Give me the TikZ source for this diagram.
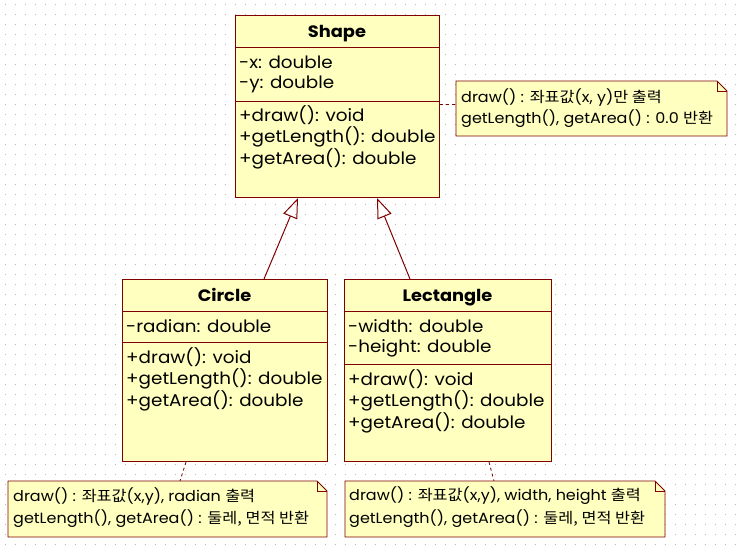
\documentclass[tikz,border=0pt]{standalone}
\usepackage{fontspec}
\setmainfont{Poppins}[FakeStretch=1.08]
\newfontfamily\kr{Noto Sans CJK KR}[FakeStretch=1.1]
\usetikzlibrary{arrows.meta,calc}
\definecolor{boxfill}{RGB}{255,255,192}
\definecolor{boxline}{RGB}{128,0,0}
\definecolor{dotc}{RGB}{185,185,185}
\tikzset{
  classbox/.style={draw=boxline, fill=boxfill, line width=1pt, anchor=north west, inner sep=0pt},
  sepline/.style={draw=boxline, line width=1pt},
  title/.style={anchor=base, inner sep=0pt, font=\fontsize{16.5}{19}\selectfont\bfseries},
  mem/.style={anchor=west, inner sep=0pt, font=\fontsize{17}{20}\selectfont},
  notetext/.style={anchor=west, inner sep=0pt, font=\fontsize{14.8}{17}\selectfont},
  notebox/.style={draw=boxline, fill=boxfill, line width=0.8pt},
  inh/.style={draw=boxline, line width=1pt, -{Triangle[open, length=20pt, width=15pt]}},
  notelink/.style={draw=boxline, line width=0.8pt, dash pattern=on 3pt off 3pt}
}
\newcommand{\notepath}[4]{%
  \path[notebox] (#1,#2) -- (#3-10,#2) -- (#3,#2+10) -- (#3,#4) -- (#1,#4) -- cycle;
  \draw[boxline, line width=0.8pt] (#3-10,#2) -- (#3-10,#2+10) -- (#3,#2+10);}
\begin{document}
\begin{tikzpicture}[x=1pt,y=-1pt]
\useasboundingbox (0,0) rectangle (737,550);
\fill[white] (0,0) rectangle (737,550);
\foreach \y in {4,14,...,550} \draw[dotc, line width=1pt, dash pattern=on 1pt off 9pt] (4.5,\y) -- (737,\y);

% Shape class
\node[classbox, minimum width=204pt, minimum height=182pt] (shape) at (235,15) {};
\draw[sepline] (235,47) -- (439,47);
\draw[sepline] (235,101) -- (439,101);
\node[title] (shapet) at (337,37.5) {Shape};
\node[mem] (sa1) at (239,62) {-x: double};
\node[mem] (sa2) at (239,84) {-y: double};
\node[mem] (sm1) at (239,115) {+draw(): void};
\node[mem] (sm2) at (239,137) {+getLength(): double};
\node[mem] (sm3) at (239,159) {+getArea(): double};

% Circle class
\node[classbox, minimum width=205pt, minimum height=182pt] (circ) at (122,279) {};
\draw[sepline] (122,311) -- (327,311);
\draw[sepline] (122,342) -- (327,342);
\node[title] (circt) at (224.5,301.5) {Circle};
\node[mem] (ca1) at (126,326) {-radian: double};
\node[mem] (cm1) at (126,357) {+draw(): void};
\node[mem] (cm2) at (126,379) {+getLength(): double};
\node[mem] (cm3) at (126,401) {+getArea(): double};

% Lectangle class
\node[classbox, minimum width=207pt, minimum height=182pt] (rect) at (344,279) {};
\draw[sepline] (344,311) -- (551,311);
\draw[sepline] (344,364) -- (551,364);
\node[title] (rectt) at (447.5,301.5) {Lectangle};
\node[mem] (ra1) at (348,326) {-width: double};
\node[mem] (ra2) at (348,348) {-height: double};
\node[mem] (rm1) at (348,379) {+draw(): void};
\node[mem] (rm2) at (348,401) {+getLength(): double};
\node[mem] (rm3) at (348,423) {+getArea(): double};

% inheritance
\draw[inh] ($(circ.north west)+(142,0)$) -- ($(shape.south west)+(63,0)$);
\draw[inh] ($(rect.north west)+(66,0)$) -- ($(shape.south west)+(142,0)$);

% notes
\notepath{456}{81}{727}{136}
\coordinate (n1) at (456,104);
\node[notetext] (n1a) at (461,97) {draw() : {\kr 좌표값}(x, y){\kr 만 출력}};
\node[notetext] (n1b) at (461,119) {getLength(), getArea() : 0.0 {\kr 반환}};
\draw[notelink] ($(shape.north east)+(0,89)$) -- (n1);

\notepath{8}{481}{327}{537}
\coordinate (n2) at (180,481);
\node[notetext] (n2a) at (13,496) {draw() : {\kr 좌표값}(x,y), radian {\kr 출력}};
\node[notetext] (n2b) at (13,519) {getLength(), getArea() : {\kr 둘레, 면적 반환}};
\draw[notelink] ($(circ.south west)+(64,0)$) -- (n2);

\notepath{345}{481}{665}{537}
\coordinate (n3) at (494,481);
\node[notetext] (n3a) at (349,496) {draw() : {\kr 좌표값}(x,y), width, height {\kr 출력}};
\node[notetext] (n3b) at (349,519) {getLength(), getArea() : {\kr 둘레, 면적 반환}};
\draw[notelink] ($(rect.south west)+(145,0)$) -- (n3);
\end{tikzpicture}
\end{document}
